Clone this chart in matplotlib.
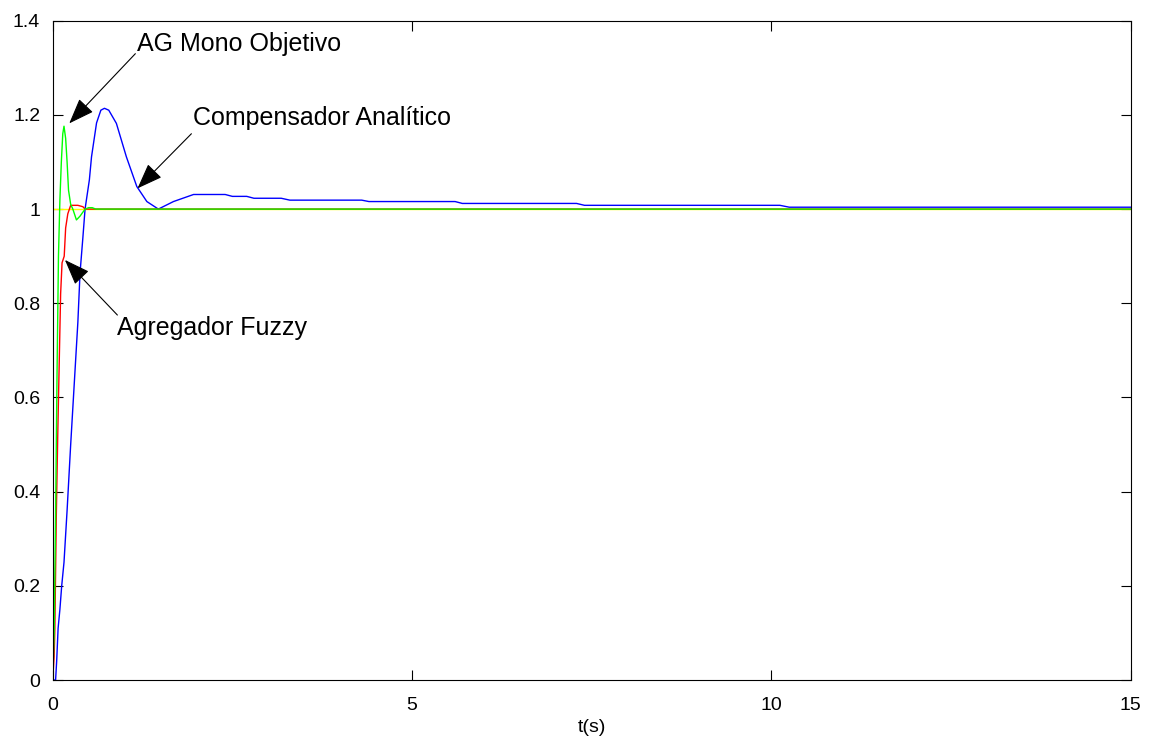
import matplotlib
matplotlib.use("Agg")
import matplotlib.pyplot as plt

# step responses
t_ref = [0, 15]
y_ref = [1, 1]

t_comp = [0, 0.04, 0.055, 0.075, 0.1, 0.125, 0.157, 0.2, 0.25, 0.3, 0.35, 0.38, 0.42,
          0.45, 0.51, 0.54, 0.61, 0.67, 0.72, 0.78, 0.886, 1.025, 1.17, 1.31, 1.47,
          1.68, 1.96, 2.4, 2.5, 2.7, 2.8, 3.18, 3.3, 4.3, 4.4, 5.6, 5.7, 7.29, 7.4,
          10.12, 10.25, 15]
y_comp = [0, 0, 0.04, 0.11, 0.15, 0.2, 0.25, 0.36, 0.5, 0.63, 0.76, 0.864, 0.94,
          1.0, 1.062, 1.111, 1.183, 1.21, 1.214, 1.21, 1.182, 1.111, 1.048, 1.016, 1.0,
          1.016, 1.031, 1.031, 1.027, 1.027, 1.023, 1.023, 1.019, 1.019, 1.016, 1.016,
          1.012, 1.012, 1.008, 1.008, 1.004, 1.004]

t_fuzzy = [0, 0.02, 0.03, 0.05, 0.07, 0.09, 0.11, 0.13, 0.16, 0.18, 0.21, 0.25, 0.35,
           0.42, 0.45, 15]
y_fuzzy = [0, 0.05, 0.11, 0.35, 0.52, 0.67, 0.82, 0.886, 0.9, 0.96, 0.99, 1.008,
           1.008, 1.005, 1.0, 1.0]

t_ag = [0, 0.02, 0.04, 0.06, 0.08, 0.1, 0.12, 0.14, 0.157, 0.18, 0.2, 0.22, 0.25,
        0.28, 0.33, 0.38, 0.45, 0.5, 0.55, 0.6, 15]
y_ag = [0, 0.1, 0.35, 0.65, 0.9, 1.02, 1.1, 1.16, 1.176, 1.15, 1.1, 1.04, 1.01, 1.0,
        0.977, 0.985, 1.0, 1.003, 1.003, 1.0, 1.0]

xticks = [0, 5, 10, 15]
yticks = [0, 0.2, 0.4, 0.6, 0.8, 1, 1.2, 1.4]
ytick_labels = ["0", "0.2", "0.4", "0.6", "0.8", "1", "1.2", "1.4"]

plt.rcParams['font.family'] = ['Liberation Sans', 'DejaVu Sans']

fig = plt.figure(figsize=(11.51, 7.45), dpi=100)
ax = fig.add_axes([0.0458, 0.0872, 0.9365, 0.885])

ax.plot(t_ref, y_ref, color="#ffff00", lw=1)
ax.plot(t_comp, y_comp, color="#0000ff", lw=1)
ax.plot(t_fuzzy, y_fuzzy, color="#ff0000", lw=1)
ax.plot(t_ag, y_ag, color="#00ff00", lw=1)

ax.set_xlim(0, 15)
ax.set_ylim(0, 1.4)
ax.set_xticks(xticks)
ax.set_xticklabels([str(v) for v in xticks])
ax.set_yticks(yticks)
ax.set_yticklabels(ytick_labels)
ax.tick_params(direction="in", length=7, width=0.8, top=True, right=True,
               labelsize=14)
ax.tick_params(axis="x", pad=12)
ax.tick_params(axis="y", pad=9)
for s in ax.spines.values():
    s.set_linewidth(0.8)
ax.set_xlabel("t(s)", fontsize=14, labelpad=4)

# annotations with arrows
arrow = dict(arrowstyle="-|>,head_length=0.8,head_width=0.3", color="black",
             lw=0.8, mutation_scale=20, shrinkA=0, shrinkB=0)
ax.annotate("", xy=(0.23, 1.182), xytext=(1.15, 1.33), arrowprops=arrow)
ax.text(1.17, 1.351, "AG Mono Objetivo", fontsize=18, ha="left", va="center")

ax.annotate("", xy=(1.18, 1.044), xytext=(1.93, 1.16), arrowprops=arrow)
ax.text(1.95, 1.193, "Compensador Analítico", fontsize=18, ha="left", va="center")

ax.annotate("", xy=(0.17, 0.892), xytext=(0.9, 0.775), arrowprops=arrow)
ax.text(0.9, 0.747, "Agregador Fuzzy", fontsize=18, ha="left", va="center")

fig.savefig("out.png", dpi=100)
